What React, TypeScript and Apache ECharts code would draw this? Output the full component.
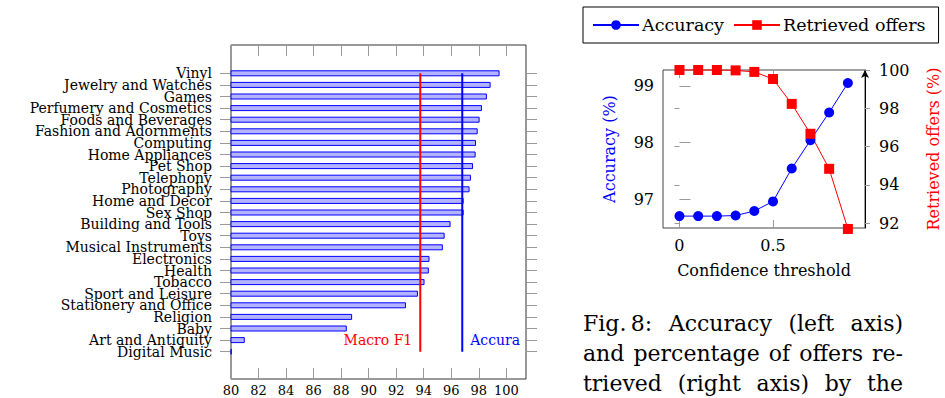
import React, { useEffect, useRef } from "react";
import * as echarts from "echarts";

// ---------- Left chart data ----------
const categories = [
  "Vinyl",
  "Jewelry and Watches",
  "Games",
  "Perfumery and Cosmetics",
  "Foods and Beverages",
  "Fashion and Adornments",
  "Computing",
  "Home Appliances",
  "Pet Shop",
  "Telephony",
  "Photography",
  "Home and Decor",
  "Sex Shop",
  "Building and Tools",
  "Toys",
  "Musical Instruments",
  "Electronics",
  "Health",
  "Tobacco",
  "Sport and Leisure",
  "Stationery and Office",
  "Religion",
  "Baby",
  "Art and Antiquity",
  "Digital Music",
];
const barValues = [
  99.51, 98.86, 98.59, 98.23, 98.06, 97.92, 97.8, 97.77, 97.58, 97.43, 97.33,
  96.9, 96.9, 95.95, 95.52, 95.39, 94.42, 94.37, 94.06, 93.58, 92.71, 88.8,
  88.41, 81.0, 80.05,
];
const macroF1 = 93.75;
const overallAccuracy = 96.8;
const barTicks = [80, 82, 84, 86, 88, 90, 92, 94, 96, 98, 100];
const labelCategory = "Art and Antiquity";

// ---------- Right chart data ----------
const thresholds = [0, 0.1, 0.2, 0.3, 0.4, 0.5, 0.6, 0.7, 0.8, 0.9];
const accuracy = [96.7, 96.7, 96.7, 96.71, 96.79, 96.96, 97.54, 98.04, 98.53, 99.05];
const retrieved = [100, 100, 100, 99.98, 99.9, 99.53, 98.23, 96.67, 94.84, 91.7];
const thresholdTicks = [0, 0.5];
const accuracyTicks = [97, 98, 99];
const retrievedTicks = [92, 94, 96, 98, 100];

// ---------- Caption ----------
const captionLines = [
  ["Fig.\u20098:", "Accuracy", "(left", "axis)"],
  ["and", "percentage", "of", "offers", "re-"],
  ["trieved", "(right", "axis)", "by", "the"],
];

const FONT = "DejaVu Serif";
const CAPTION_FONT = "DejaVu Serif";
const GRAY = "#9a9a9a";
const BLUE = "#0000ff";
const RED = "#ff0000";

export default function App() {
  const ref = useRef<HTMLDivElement>(null);

  useEffect(() => {
    if (!ref.current) return;
    const chart = echarts.init(ref.current, null, { renderer: "svg" });

    // justified caption
    const capSize = 22;
    const ctx = document.createElement("canvas").getContext("2d")!;
    ctx.font = `${capSize}px "${CAPTION_FONT}"`;
    const capLeft = 583;
    const capRight = 903;
    const baselines = [331, 361, 391];
    const captionGraphics: any[] = [];
    captionLines.forEach((words, li) => {
      const widths = words.map((w) => ctx.measureText(w).width);
      const total = widths.reduce((a, b) => a + b, 0);
      const gap = (capRight - capLeft - total) / (words.length - 1);
      let x = capLeft;
      words.forEach((w, i) => {
        captionGraphics.push({
          type: "text",
          x,
          y: baselines[li] - capSize * 0.35,
          style: {
            text: w,
            fill: "#000",
            fontSize: capSize,
            fontFamily: CAPTION_FONT,
            verticalAlign: "middle",
            align: "left",
          },
        });
        x += widths[i] + gap;
      });
    });

    const barMin = 80;
    const barMax = 101.43;

    const option: any = {
      animation: false,
      textStyle: { fontFamily: FONT, color: "#000" },
      grid: [
        // 0: frame of left chart
        { left: 231, width: 295, top: 45, height: 334, show: true, borderColor: "#333", borderWidth: 1, backgroundColor: "transparent" },
        // 1: bars region (categories)
        { left: 231, width: 295, top: 67.5, height: 290 },
        // 2: right chart
        { left: 663, width: 202, top: 70, height: 158, show: true, borderColor: "#444", borderWidth: 1, backgroundColor: "transparent" },
      ],
      legend: {
        left: 583,
        top: 7,
        data: ["Accuracy", "Retrieved offers"],
        borderColor: "#000",
        borderWidth: 1,
        borderRadius: 0,
        padding: [9, 13, 9, 9],
        itemWidth: 46,
        itemHeight: 12,
        itemGap: 9,
        textStyle: { fontFamily: FONT, fontSize: 17.5, color: "#000", padding: [0, 0, 0, -2] },
      },
      xAxis: [
        {
          gridIndex: 0,
          type: "value",
          position: "bottom",
          min: barMin,
          max: barMax,
          splitLine: { show: false },
          axisLine: { show: false },
          axisTick: { show: true, inside: true, length: 11, customValues: barTicks, lineStyle: { color: GRAY } },
          axisLabel: { show: true, customValues: barTicks, fontSize: 13, color: "#000", margin: 5, fontFamily: FONT },
        },
        {
          gridIndex: 0,
          type: "value",
          position: "top",
          min: barMin,
          max: barMax,
          splitLine: { show: false },
          axisLine: { show: false },
          axisTick: { show: true, inside: true, length: 11, customValues: barTicks, lineStyle: { color: GRAY } },
          axisLabel: { show: false },
        },
        {
          gridIndex: 1,
          type: "value",
          min: barMin,
          max: barMax,
          show: false,
        },
        {
          gridIndex: 2,
          type: "value",
          position: "bottom",
          min: -0.088,
          max: 0.9915,
          splitLine: { show: false },
          axisLine: { show: false },
          axisTick: { show: true, inside: true, length: 8, customValues: thresholdTicks, lineStyle: { color: GRAY } },
          axisLabel: { show: true, customValues: thresholdTicks, fontSize: 16, color: "#000", margin: 9, fontFamily: FONT },
          name: "Confidence threshold",
          nameLocation: "middle",
          nameGap: 34,
          nameTextStyle: { fontSize: 16, color: "#000", fontFamily: FONT },
        },
        {
          gridIndex: 2,
          type: "value",
          position: "top",
          min: -0.088,
          max: 0.9915,
          splitLine: { show: false },
          axisLine: { show: false },
          axisTick: { show: true, inside: true, length: 8, customValues: thresholdTicks, lineStyle: { color: GRAY } },
          axisLabel: { show: false },
        },
      ],
      yAxis: [
        { gridIndex: 0, type: "value", show: false },
        {
          gridIndex: 1,
          type: "category",
          position: "left",
          inverse: true,
          data: categories,
          boundaryGap: true,
          axisLine: { show: false },
          axisTick: { show: true, alignWithLabel: true, length: 11, lineStyle: { color: GRAY } },
          axisLabel: { show: true, interval: 0, fontSize: 14, color: "#000", margin: 19, fontFamily: FONT },
          splitLine: { show: false },
        },
        {
          gridIndex: 1,
          type: "category",
          position: "right",
          inverse: true,
          data: categories,
          boundaryGap: true,
          axisLine: { show: false },
          axisTick: { show: true, alignWithLabel: true, interval: 0, length: 11, lineStyle: { color: GRAY } },
          axisLabel: { show: false },
          splitLine: { show: false },
        },
        {
          gridIndex: 2,
          type: "value",
          position: "left",
          min: 96.49,
          max: 99.28,
          splitLine: { show: false },
          axisLine: { show: false },
          axisTick: { show: true, inside: true, length: 11, customValues: accuracyTicks, lineStyle: { color: GRAY } },
          axisLabel: { show: true, customValues: accuracyTicks, fontSize: 16, color: "#000", margin: 9, fontFamily: FONT },
          name: "Accuracy (%)",
          nameLocation: "middle",
          nameGap: 46,
          nameTextStyle: { fontSize: 16, color: BLUE, fontFamily: FONT },
        },
        {
          gridIndex: 2,
          type: "value",
          position: "right",
          min: 91.75,
          max: 100,
          splitLine: { show: false },
          axisLine: {
            show: true,
            onZero: false,
            symbol: ["none", "arrow"],
            symbolSize: [6, 8],
            lineStyle: { color: "#000", width: 1 },
          },
          axisTick: { show: true, inside: false, length: 5, customValues: retrievedTicks, lineStyle: { color: GRAY } },
          axisLabel: { show: true, customValues: retrievedTicks, fontSize: 16, color: "#000", margin: 14, fontFamily: FONT },
          name: "Retrieved offers (%)",
          nameLocation: "middle",
          nameGap: 60,
          nameTextStyle: { fontSize: 16, color: RED, fontFamily: FONT },
        },
        {
          gridIndex: 2,
          type: "value",
          position: "right",
          min: 91.75,
          max: 100,
          splitLine: { show: false },
          axisLine: { show: false },
          axisTick: { show: true, inside: true, length: 5, customValues: retrievedTicks, lineStyle: { color: GRAY } },
          axisLabel: { show: false },
        },
      ],
      series: [
        {
          name: "Per category",
          type: "bar",
          xAxisIndex: 2,
          yAxisIndex: 1,
          data: barValues,
          barWidth: 6,
          itemStyle: { color: "#b3b3ff", borderColor: BLUE, borderWidth: 1 },
          silent: true,
        },
        {
          name: "Macro F1",
          type: "line",
          xAxisIndex: 2,
          yAxisIndex: 1,
          data: [
            [macroF1, categories[0]],
            [macroF1, categories[categories.length - 1]],
          ],
          symbol: "none",
          lineStyle: { color: RED, width: 2 },
          itemStyle: { color: RED },
          markPoint: {
            symbol: "circle",
            symbolSize: 0,
            data: [{ coord: [macroF1, labelCategory] }],
            label: { show: true, position: "left", distance: 8, formatter: "Macro F1", color: RED, fontSize: 14, fontFamily: FONT },
          },
          silent: true,
        },
        {
          name: "Overall accuracy",
          type: "line",
          xAxisIndex: 2,
          yAxisIndex: 1,
          data: [
            [overallAccuracy, categories[0]],
            [overallAccuracy, categories[categories.length - 1]],
          ],
          symbol: "none",
          lineStyle: { color: BLUE, width: 2 },
          itemStyle: { color: BLUE },
          markPoint: {
            symbol: "circle",
            symbolSize: 0,
            data: [{ coord: [overallAccuracy, labelCategory] }],
            label: {
              show: true,
              position: "right",
              distance: 8,
              formatter: "Accuracy",
              color: BLUE,
              fontSize: 14,
              fontFamily: FONT,
              width: 55,
              overflow: "truncate",
              ellipsis: "",
            },
          },
          silent: true,
        },
        {
          name: "Accuracy",
          type: "line",
          xAxisIndex: 3,
          yAxisIndex: 3,
          data: thresholds.map((t, i) => [t, accuracy[i]]),
          symbol: "circle",
          symbolSize: 10,
          clip: false,
          lineStyle: { color: BLUE, width: 1 },
          itemStyle: { color: BLUE },
        },
        {
          name: "Retrieved offers",
          type: "line",
          xAxisIndex: 3,
          yAxisIndex: 4,
          data: thresholds.map((t, i) => [t, retrieved[i]]),
          symbol: "rect",
          symbolSize: 10,
          clip: false,
          lineStyle: { color: RED, width: 1 },
          itemStyle: { color: RED },
        },
      ],
      graphic: captionGraphics,
    };

    chart.setOption(option);
    return () => chart.dispose();
  }, []);

  return (
    <div
      ref={ref}
      style={{ position: "absolute", left: 0, top: 0, width: 945, height: 398, background: "#fff" }}
    />
  );
}
